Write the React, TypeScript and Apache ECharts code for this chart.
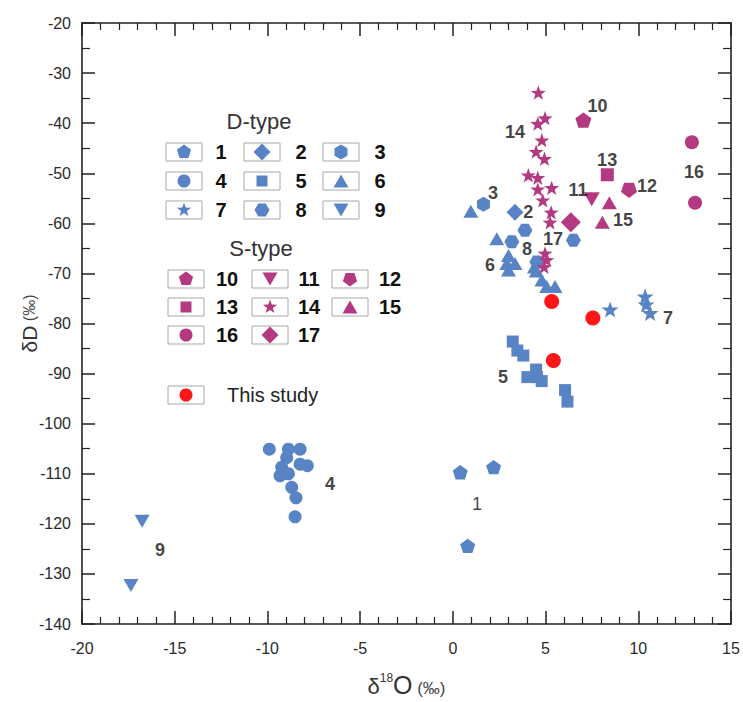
import React, { useEffect, useRef } from "react";
import * as echarts from "echarts";

// ---------- data ----------
const t1 = [[0.4, -109.7], [2.2, -108.7], [0.8, -124.4]];
const t2 = [[3.35, -57.8]];
const t3 = [[1.65, -56.2]];
const t4 = [[-9.9, -105.1], [-8.87, -105.1], [-8.24, -105.1], [-8.96, -106.8], [-9.23, -108.7], [-8.24, -108.1], [-7.85, -108.4], [-9.32, -110.4], [-8.87, -110.0], [-8.69, -112.7], [-8.46, -114.8], [-8.51, -118.6]];
const t5 = [[3.23, -83.6], [3.48, -85.4], [3.8, -86.4], [4.49, -89.2], [4.02, -90.7], [4.53, -90.7], [4.79, -91.5], [6.05, -93.3], [6.18, -95.6]];
const t6 = [[0.97, -57.6], [2.37, -63.1], [3.0, -66.4], [2.91, -68.0], [3.35, -68.0], [3.0, -69.3], [4.4, -68.7], [4.5, -69.5], [4.8, -71.3], [5.06, -72.6], [5.51, -72.6]];
const t7 = [[8.48, -77.2], [10.37, -74.6], [10.42, -76.2], [10.64, -77.9]];
const t8 = [[3.89, -61.4], [3.18, -63.7], [4.53, -67.7], [6.5, -63.4]];
const t9 = [[-16.76, -119.5], [-17.36, -132.3]];
const t10 = [[7.04, -39.4]];
const t11 = [[7.49, -55.2]];
const t12 = [[9.5, -53.4]];
const t13 = [[8.33, -50.3]];
const t14 = [[4.61, -33.9], [4.97, -39.0], [4.58, -40.1], [4.8, -43.4], [4.49, -45.7], [4.94, -47.1], [4.07, -50.4], [4.58, -50.9], [5.33, -52.9], [4.58, -53.2], [4.85, -55.4], [5.3, -57.8], [5.24, -59.8], [4.97, -66.0], [5.06, -67.3], [4.92, -68.7]];
const t15 = [[8.44, -55.9], [8.06, -59.8]];
const t16 = [[12.89, -43.8], [13.06, -55.9]];
const t17 = [[6.36, -59.8]];
const thisStudy = [[5.33, -75.6], [7.55, -78.9], [5.42, -87.4]];

// annotation labels placed in data coordinates
const LABELS = [
  { text: "10", x: 7.8, y: -36.6, bold: true },
  { text: "14", x: 3.35, y: -41.7, bold: true },
  { text: "13", x: 8.32, y: -47.4, bold: true },
  { text: "16", x: 13.0, y: -49.8, bold: true },
  { text: "3", x: 2.17, y: -53.9, bold: true },
  { text: "11", x: 6.75, y: -53.3, bold: true },
  { text: "12", x: 10.47, y: -52.6, bold: true },
  { text: "2", x: 4.06, y: -57.8, bold: true },
  { text: "15", x: 9.18, y: -59.4, bold: true },
  { text: "17", x: 5.4, y: -63.2, bold: true },
  { text: "8", x: 4.0, y: -65.1, bold: true },
  { text: "6", x: 2.0, y: -68.3, bold: true },
  { text: "7", x: 11.6, y: -78.9, bold: true },
  { text: "5", x: 2.71, y: -90.7, bold: true },
  { text: "4", x: -6.62, y: -112.0, bold: true },
  { text: "1", x: 1.3, y: -116.0, bold: false },
  { text: "9", x: -15.8, y: -125.2, bold: true },
];

const X_TICKS = { min: -20, max: 15, interval: 5 };
const Y_TICKS = { min: -140, max: -20, interval: 10 };

// ---------- shapes ----------
const BLUE = "#5884c6";
const MAG = "#b33a80";
const RED = "#ff1616";
const FONT = "Liberation Sans, Arial, sans-serif";

const SHAPES: Record<string, number[][]> = {
  pentagon: [[0, -1], [0.951, -0.309], [0.588, 0.809], [-0.588, 0.809], [-0.951, -0.309]],
  pentagonDown: [[0, 1], [0.951, 0.309], [0.588, -0.809], [-0.588, -0.809], [-0.951, 0.309]],
  hexagon: [[0, -1], [0.866, -0.5], [0.866, 0.5], [0, 1], [-0.866, 0.5], [-0.866, -0.5]],
  hexagonFlat: [[-1, 0], [-0.5, -0.866], [0.5, -0.866], [1, 0], [0.5, 0.866], [-0.5, 0.866]],
  diamond: [[0, -1], [1, 0], [0, 1], [-1, 0]],
  square: [[-1, -1], [1, -1], [1, 1], [-1, 1]],
  triangle: [[0, -0.866], [1, 0.866], [-1, 0.866]],
  triangleDown: [[-1, -0.866], [1, -0.866], [0, 0.866]],
  star: [[0, -1], [0.235, -0.324], [0.951, -0.309], [0.38, 0.124], [0.588, 0.809], [0, 0.4], [-0.588, 0.809], [-0.38, 0.124], [-0.951, -0.309], [-0.235, -0.324]],
};

const toPath = (pts: number[][]) =>
  "path://" + pts.map((p, i) => (i === 0 ? "M" : "L") + p[0] + "," + p[1]).join("") + "Z";

const symbolOf = (shape: string) => (shape === "circle" ? "circle" : toPath(SHAPES[shape]));

type Group = { name: string; data: number[][]; shape: string; size: number; color: string };

const GROUPS: Group[] = [
  { name: "1", data: t1, shape: "pentagon", size: 15, color: BLUE },
  { name: "2", data: t2, shape: "diamond", size: 17, color: BLUE },
  { name: "3", data: t3, shape: "hexagon", size: 15, color: BLUE },
  { name: "4", data: t4, shape: "circle", size: 13, color: BLUE },
  { name: "5", data: t5, shape: "square", size: 12, color: BLUE },
  { name: "6", data: t6, shape: "triangle", size: 15, color: BLUE },
  { name: "7", data: t7, shape: "star", size: 17, color: BLUE },
  { name: "8", data: t8, shape: "hexagonFlat", size: 15, color: BLUE },
  { name: "9", data: t9, shape: "triangleDown", size: 15, color: BLUE },
  { name: "10", data: t10, shape: "pentagon", size: 16, color: MAG },
  { name: "11", data: t11, shape: "triangleDown", size: 16, color: MAG },
  { name: "12", data: t12, shape: "pentagonDown", size: 16, color: MAG },
  { name: "13", data: t13, shape: "square", size: 13, color: MAG },
  { name: "14", data: t14, shape: "star", size: 15, color: MAG },
  { name: "15", data: t15, shape: "triangle", size: 15, color: MAG },
  { name: "16", data: t16, shape: "circle", size: 14, color: MAG },
  { name: "17", data: t17, shape: "diamond", size: 20, color: MAG },
  { name: "This study", data: thisStudy, shape: "circle", size: 15, color: RED },
];

// legend symbol drawn as graphic element
function legendSymbol(shape: string, cx: number, cy: number, r: number, color: string) {
  if (shape === "circle") {
    return { type: "circle", shape: { cx, cy, r }, style: { fill: color }, z: 10 };
  }
  const pts = SHAPES[shape].map((p) => [cx + p[0] * r, cy + p[1] * r]);
  return { type: "polygon", shape: { points: pts }, style: { fill: color }, z: 10 };
}

function buildLegend() {
  const els: any[] = [];
  const boxW = 36;
  const boxH = 18;
  const titleStyle = { fontSize: 22, fontFamily: FONT, fill: "#333", align: "center", verticalAlign: "middle" };
  els.push({ type: "text", x: 259, y: 121, style: { text: "D-type", ...titleStyle }, z: 10 });
  els.push({ type: "text", x: 261, y: 248, style: { text: "S-type", ...titleStyle }, z: 10 });

  const addItem = (g: Group, bx: number, cy: number, lx: number, r: number) => {
    els.push({
      type: "rect",
      shape: { x: bx, y: cy - boxH / 2, width: boxW, height: boxH },
      style: { fill: "#fff", stroke: "#a8a8a8", lineWidth: 1 },
      z: 9,
    });
    els.push(legendSymbol(g.shape, bx + boxW / 2, cy, r, g.color));
    els.push({
      type: "text",
      x: lx,
      y: cy,
      style: {
        text: g.name,
        fontSize: 20,
        fontWeight: g.name === "This study" ? "normal" : "bold",
        fontFamily: FONT,
        fill: g.name === "This study" ? "#222" : "#111",
        align: g.name === "This study" ? "left" : "center",
        verticalAlign: "middle",
      },
      z: 10,
    });
  };
  const radius = (s: string) => (s === "circle" ? 6.5 : s === "square" ? 5.5 : s === "diamond" ? 8.5 : 7.5);

  const dBox = [166, 244, 323];
  const dLab = [221, 301, 380];
  const dRows = [152, 181, 210];
  for (let i = 0; i < 9; i++) {
    const g = GROUPS[i];
    addItem(g, dBox[i % 3], dRows[Math.floor(i / 3)], dLab[i % 3], radius(g.shape));
  }
  const sBox = [168, 252, 332];
  const sLab = [227, 309, 390];
  const sRows = [279, 307, 335];
  for (let i = 9; i < 17; i++) {
    const g = GROUPS[i];
    const k = i - 9;
    addItem(g, sBox[k % 3], sRows[Math.floor(k / 3)], sLab[k % 3], radius(g.shape));
  }
  addItem(GROUPS[17], 168, 395, 227, 6.5);
  return els;
}

const tickStyle = { color: "#222", width: 1.5 };

function axisCommon(extra: any) {
  return {
    type: "value",
    splitLine: { show: false },
    axisLine: { show: true, onZero: false, lineStyle: { color: "#222", width: 1.6 } },
    axisTick: { show: true, inside: true, length: 13, lineStyle: tickStyle },
    ...extra,
  };
}

export default function App() {
  const ref = useRef<HTMLDivElement>(null);
  useEffect(() => {
    if (!ref.current) return;
    const chart = echarts.init(ref.current, null, { renderer: "svg" });
    const xBase = { min: X_TICKS.min, max: X_TICKS.max, interval: X_TICKS.interval };
    const yBase = { min: Y_TICKS.min, max: Y_TICKS.max, interval: Y_TICKS.interval };
    const xMinor = { show: true, splitNumber: 5, length: 7, lineStyle: { color: "#222", width: 1.2 } };
    const yMinor = { show: true, splitNumber: 2, length: 8, lineStyle: { color: "#222", width: 1.2 } };

    const option: any = {
      animation: false,
      backgroundColor: "#fff",
      grid: { left: 82, right: 12, top: 23, bottom: 70, containLabel: false },
      xAxis: [
        axisCommon({
          ...xBase,
          position: "bottom",
          minorTick: xMinor,
          axisLabel: { fontSize: 16, color: "#2a2a2a", fontFamily: FONT, margin: 16 },
          name: "{d|δ}{s|18}{o|O}{p| (‰)}",
          nameLocation: "middle",
          nameGap: 48,
          nameMoveOverlap: false,
          nameTextStyle: {
            fontFamily: FONT,
            color: "#333",
            rich: {
              d: { fontSize: 22, fontFamily: FONT, color: "#333", verticalAlign: "bottom" },
              s: { fontSize: 12, fontFamily: FONT, color: "#333", verticalAlign: "top" },
              o: { fontSize: 25, fontFamily: FONT, color: "#333", verticalAlign: "bottom" },
              p: { fontSize: 17, fontFamily: FONT, color: "#444", verticalAlign: "bottom" },
            },
          },
        }),
        axisCommon({
          ...xBase,
          position: "top",
          minorTick: xMinor,
          axisLabel: { show: false },
        }),
      ],
      yAxis: [
        axisCommon({
          ...yBase,
          position: "left",
          minorTick: yMinor,
          axisLabel: { fontSize: 16, color: "#2a2a2a", fontFamily: FONT, margin: 11 },
          name: "{d|δD}{p| (‰)}",
          nameLocation: "middle",
          nameGap: 42,
          nameMoveOverlap: false,
          nameRotate: 90,
          nameTextStyle: {
            fontFamily: FONT,
            color: "#333",
            rich: {
              d: { fontSize: 21, fontFamily: FONT, color: "#333" },
              p: { fontSize: 16, fontFamily: FONT, color: "#444" },
            },
          },
        }),
        axisCommon({
          ...yBase,
          position: "right",
          minorTick: yMinor,
          axisLabel: { show: false },
        }),
      ],
      series: [
        ...GROUPS.map((g) => ({
          name: g.name,
          type: "scatter",
          data: g.data,
          symbol: symbolOf(g.shape),
          symbolSize: g.size,
          symbolKeepAspect: true,
          itemStyle: { color: g.color, opacity: 1 },
          z: g.name === "This study" ? 4 : 3,
          emphasis: { disabled: true },
        })),
        {
          name: "labels",
          type: "scatter",
          symbolSize: 0,
          silent: true,
          z: 5,
          data: LABELS.map((l) => ({
            value: [l.x, l.y],
            name: l.text,
            label: {
              show: true,
              position: "inside",
              formatter: l.text,
              fontSize: 18,
              fontWeight: l.bold ? "bold" : "normal",
              fontFamily: FONT,
              color: "#111",
              textBorderWidth: 0,
            },
          })),
        },
      ],
      graphic: buildLegend(),
    };
    chart.setOption(option);
    return () => chart.dispose();
  }, []);
  return (
    <div
      ref={ref}
      style={{ position: "absolute", left: 0, top: 0, width: 743, height: 702 }}
    />
  );
}
